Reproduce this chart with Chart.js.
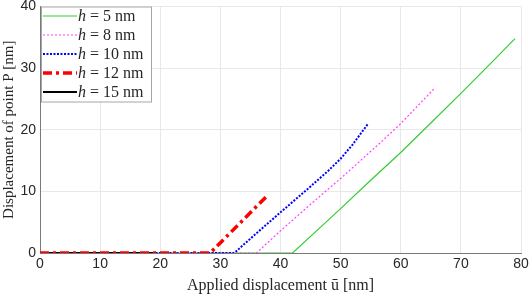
<!doctype html>
<html lang="en">
<head>
  <meta charset="utf-8">
  <title>Displacement of point P</title>
  <script src="https://cdn.jsdelivr.net/npm/chart.js"></script>
  <style>
    html,body{margin:0;padding:0;background:#fff;}
    .chart-wrapper{position:relative;width:529px;height:295px;}
  </style>
</head>
<body>
  <div class="chart-wrapper">
    <canvas id="chart"></canvas>
  </div>

  <script>
    /* ─── data ─── */
    const H_LABELS = ['5', '8', '10', '12', '15'];

    const U_H5  = [0, 42, 45, 50, 55, 60, 65, 70, 75, 79];
    const P_H5  = [0, 0, 2.7, 7.2, 11.8, 16.3, 21.1, 25.9, 30.8, 34.8];

    const U_H8  = [0, 36, 40, 45, 50, 56.5, 60, 65.5];
    const P_H8  = [0, 0, 3.6, 7.9, 12.1, 17.8, 21.0, 26.6];

    const U_H10 = [0, 32.3, 36, 40, 45, 48, 50, 52, 54.5];
    const P_H10 = [0, 0, 3.2, 6.6, 10.8, 13.4, 15.3, 17.6, 20.9];

    const U_H12 = [0, 28.3, 33, 38];
    const P_H12 = [0, 0, 4.6, 9.5];

    const U_H15 = [0, 19];
    const P_H15 = [0, 0];

    const X_TICKS = [0, 10, 20, 30, 40, 50, 60, 70, 80];
    const Y_TICKS = [0, 10, 20, 30, 40];

    /* ─── styles ─── */
    const STYLES = [
      {color:'#33cc33', width:1.2, dash:[],           order:4},
      {color:'#ff40ff', width:1.2, dash:[2,2],        order:3},
      {color:'#0000ff', width:2,   dash:[2,1.5],      order:2},
      {color:'#ff0000', width:3.5, dash:[9,4,3,4],    order:0},
      {color:'#000000', width:2,   dash:[],           order:1},
    ];
    const SERIES = [[U_H5,P_H5],[U_H8,P_H8],[U_H10,P_H10],[U_H12,P_H12],[U_H15,P_H15]];
    const SERIF = '"Liberation Serif", "DejaVu Serif", serif';
    const SANS  = '"Liberation Sans", Arial, sans-serif';
    const TXT   = '#262626';

    const datasets = SERIES.map(([u,p],i)=>({
      label:`h = ${H_LABELS[i]} nm`,
      data:u.map((x,j)=>({x, y:p[j]})),
      borderColor:STYLES[i].color,
      borderWidth:STYLES[i].width,
      borderDash:STYLES[i].dash,
      pointRadius:0,
      fill:false,
      tension:0,
      order:STYLES[i].order,
    }));

    /* legend box inside the axes, drawn by hand so h is italic */
    const boxLegend = {
      id:'boxLegend',
      afterDraw(chart){
        const {ctx, chartArea:{left, top}} = chart;
        const x0 = left + 1, y0 = top, w = 110, h = 95, row = 19;
        ctx.save();
        ctx.fillStyle = '#fff';
        ctx.fillRect(x0, y0, w, h);
        ctx.strokeStyle = '#a6a6a6';
        ctx.lineWidth = 1;
        ctx.strokeRect(x0 + .5, y0 + .5, w, h);
        ctx.textBaseline = 'middle';
        chart.data.datasets.forEach((ds,i)=>{
          const y = y0 + 9.5 + i*row;
          ctx.beginPath();
          ctx.setLineDash(ds.borderDash);
          ctx.strokeStyle = ds.borderColor;
          ctx.lineWidth = ds.borderWidth;
          ctx.moveTo(x0 + 2, y);
          ctx.lineTo(x0 + 36, y);
          ctx.stroke();
          ctx.setLineDash([]);
          ctx.fillStyle = TXT;
          let tx = x0 + 37;
          ctx.font = `italic 16px ${SERIF}`;
          ctx.fillText('h', tx, y + 1);
          tx += ctx.measureText('h').width + 4;
          ctx.font = `16px ${SERIF}`;
          ctx.fillText('=', tx, y + 1);
          tx += ctx.measureText('=').width + 4;
          ctx.fillText(`${H_LABELS[i]} nm`, tx, y + 1);
        });
        ctx.restore();
      }
    };

    new Chart(document.getElementById('chart'), {
      type:'line',
      data:{datasets},
      options:{
        responsive:true, maintainAspectRatio:false, animation:false,
        layout:{padding:0},
        plugins:{legend:{display:false}, tooltip:{enabled:false}},
        scales:{
          x:{
            type:'linear', min:0, max:80,
            afterBuildTicks:s=>{ s.ticks = X_TICKS.map(v=>({value:v})); },
            afterFit:s=>{ s.height = 42; s.paddingLeft = 0; s.paddingRight = 8; },
            grid:{color:'#e8e8e8', drawTicks:false},
            border:{color:'#7a7a7a'},
            ticks:{color:TXT, font:{family:SANS, size:14}, padding:3, maxRotation:0},
            title:{display:true, text:'Applied displacement ū [nm]', color:TXT,
                   font:{family:SERIF, size:16}, padding:{top:0, bottom:0}}
          },
          y:{
            min:0, max:40,
            afterBuildTicks:s=>{ s.ticks = Y_TICKS.map(v=>({value:v})); },
            afterFit:s=>{ s.width = 40; s.paddingTop = 6.5; s.paddingBottom = 0; },
            grid:{color:'#e8e8e8', drawTicks:false},
            border:{color:'#7a7a7a'},
            ticks:{color:TXT, font:{family:SANS, size:14}, padding:4},
            title:{display:true, text:'Displacement of point P [nm]', color:TXT,
                   font:{family:SERIF, size:15}, padding:{top:0, bottom:0}}
          }
        }
      },
      plugins:[boxLegend]
    });
  </script>
</body>
</html>
